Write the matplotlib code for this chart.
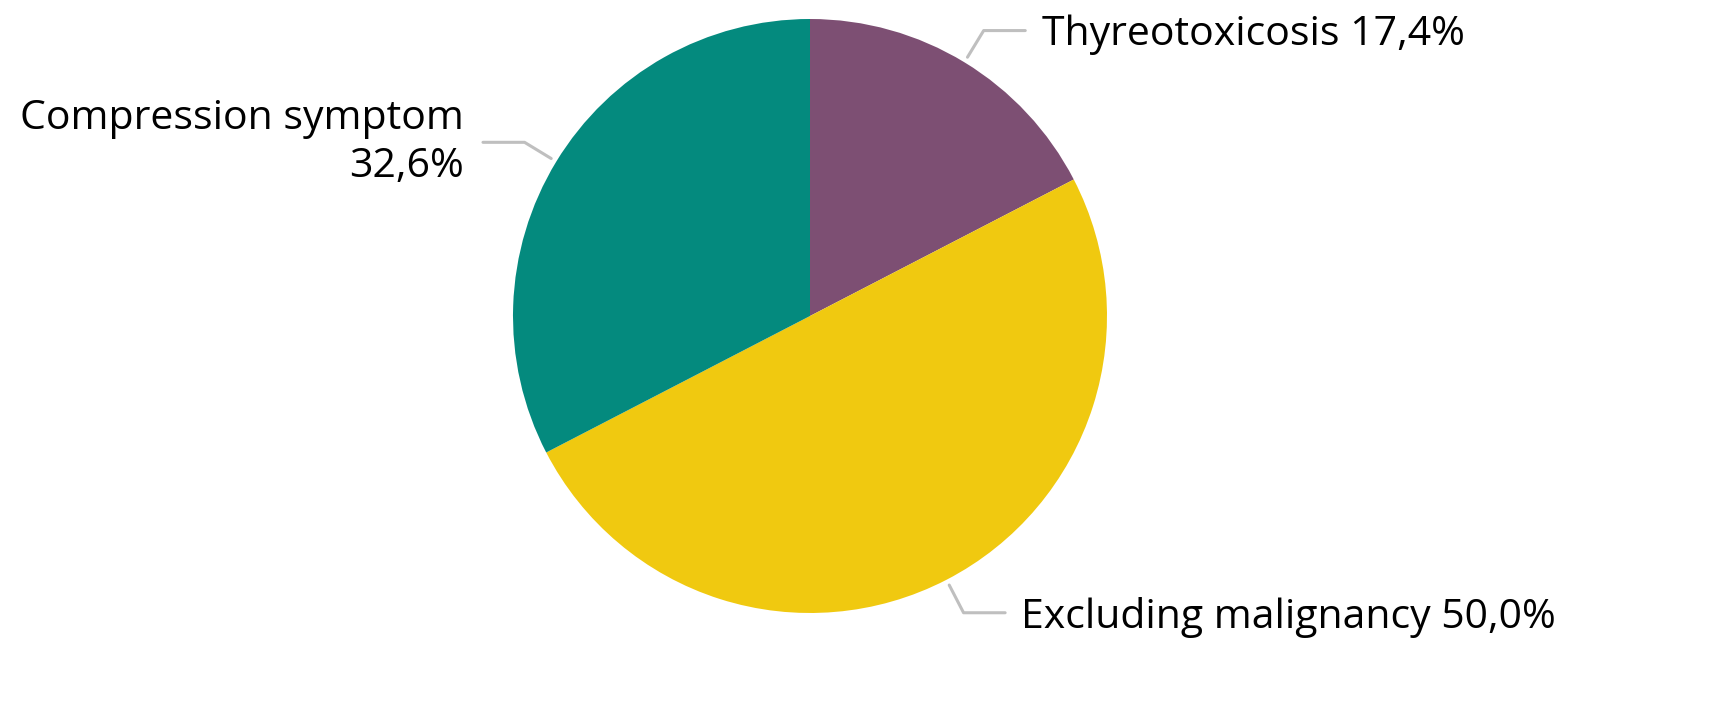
import numpy as np
import matplotlib
matplotlib.use('Agg')
import matplotlib.pyplot as plt

labels = ['Thyreotoxicosis', 'Excluding malignancy', 'Compression symptom']
values = [17.4, 50.0, 32.6]
colors = ['#7d4f73', '#f0c910', '#048a7e']
pct_text = ['17,4%', '50,0%', '32,6%']

plt.rcParams['font.family'] = ['Open Sans', 'DejaVu Sans']

W, H = 1721, 710
fig = plt.figure(figsize=(W / 100, H / 100), dpi=100)
ax = fig.add_axes([0, 0, 1, 1])

# pie centre and radius in pixels
cx, cy, rad = 810, 316, 297

wedges, _ = ax.pie(values, colors=colors, startangle=90, counterclock=False,
                   radius=1, center=(0, 0), frame=True,
                   wedgeprops=dict(linewidth=0))
ax.set_xlim(-cx / rad, (W - cx) / rad)
ax.set_ylim(-(H - cy) / rad, cy / rad)
ax.set_aspect('equal')
ax.axis('off')

for w, lab, pt in zip(wedges, labels, pct_text):
    ang = np.deg2rad((w.theta1 + w.theta2) / 2)
    ux, uy = np.cos(ang), np.sin(ang)
    p0 = (1.02 * ux, 1.02 * uy)
    p1 = (1.125 * ux, 1.125 * uy)
    side = 1 if ux > 0 else -1
    p2 = (p1[0] + side * 0.14, p1[1])
    ax.plot([p0[0], p1[0], p2[0]], [p0[1], p1[1], p2[1]], color='#bfbfbf',
            lw=2.2, solid_capstyle='round', solid_joinstyle='round')
    if side > 0:
        ax.text(p2[0] + 0.055, p2[1] - 0.015, lab + ' ' + pt, ha='left', va='center',
                fontsize=29.5, color='black')
    else:
        ax.text(p2[0] - 0.065, p2[1], lab + '\n' + pt, ha='right', va='center',
                fontsize=29.5, color='black', linespacing=1.25, multialignment='right')

fig.savefig('out.png', dpi=100)
